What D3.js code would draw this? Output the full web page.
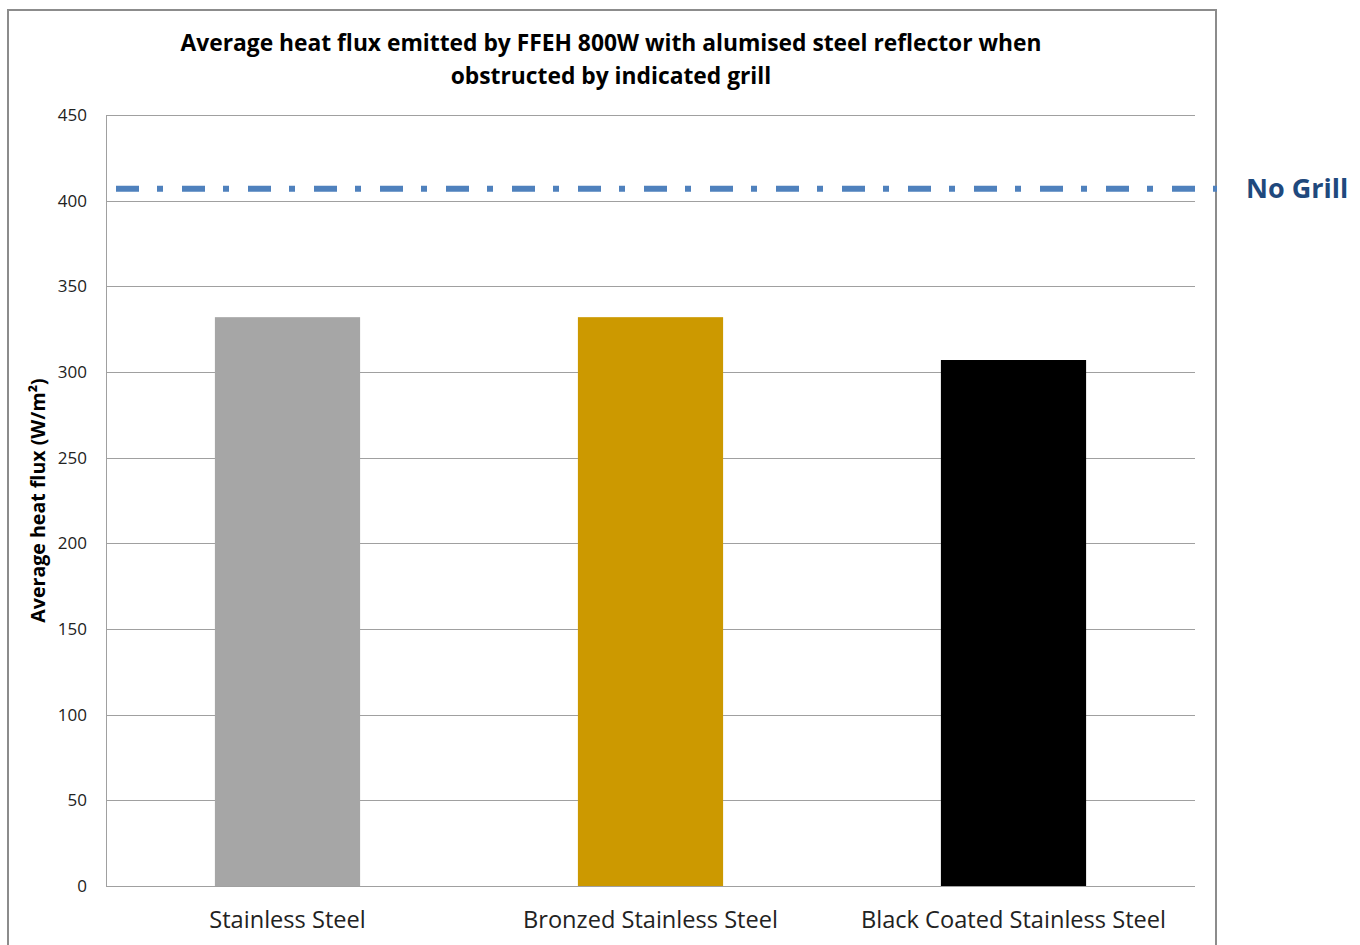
<!DOCTYPE html>
<html>
<head>
<meta charset="utf-8">
<script src="https://cdn.jsdelivr.net/npm/d3@7"></script>
<style>
  html, body { margin: 0; padding: 0; background: #fff; }
  svg { display: block; }
</style>
</head>
<body>
<svg id="chart" width="1360" height="945"></svg>
<script>
const categories = ["Stainless Steel", "Bronzed Stainless Steel", "Black Coated Stainless Steel"];
const values = [332, 332, 307];
const barColors = ["#A6A6A6", "#CC9900", "#000000"];
const noGrillValue = 407;
const noGrillLabel = "No Grill";
const yTicks = [0, 50, 100, 150, 200, 250, 300, 350, 400, 450];
const titleLines = ["Average heat flux emitted by FFEH 800W with alumised steel reflector when", "obstructed by indicated grill"];
const yTitle = "Average heat flux (W/m²)";

const svg = d3.select("#chart");
const font = "'Open Sans', 'Liberation Sans', sans-serif";

const plot = { left: 106, right: 1195, top: 115, bottom: 886 };

// outer frame
svg.append("rect")
  .attr("x", 8).attr("y", 10).attr("width", 1208).attr("height", 960)
  .attr("fill", "none").attr("stroke", "#8C8C8C").attr("stroke-width", 2);

const x = d3.scaleBand().domain(categories).range([plot.left, plot.right]).paddingInner(0.6).paddingOuter(0.3);
const y = d3.scaleLinear().domain([0, 450]).range([plot.bottom, plot.top]);

// gridlines
svg.append("g").selectAll("line").data(yTicks).join("line")
  .attr("x1", plot.left).attr("x2", plot.right)
  .attr("y1", d => Math.round(y(d)) + 0.5).attr("y2", d => Math.round(y(d)) + 0.5)
  .attr("stroke", "#A0A0A0").attr("stroke-width", 1);

// y axis line
svg.append("line")
  .attr("x1", plot.left + 0.5).attr("x2", plot.left + 0.5)
  .attr("y1", plot.top).attr("y2", plot.bottom)
  .attr("stroke", "#A0A0A0").attr("stroke-width", 1);

// y tick labels
const yAxis = d3.axisLeft(y).tickValues(yTicks).tickSize(0).tickPadding(19);
const gy = svg.append("g").attr("transform", `translate(${plot.left},0)`).call(yAxis);
gy.select(".domain").remove();
gy.selectAll("text").attr("font-family", font).attr("font-size", 17).attr("fill", "#222");

// bars
svg.append("g").selectAll("rect").data(categories).join("rect")
  .attr("x", d => x(d)).attr("width", x.bandwidth())
  .attr("y", (d, i) => y(values[i])).attr("height", (d, i) => y(0) - y(values[i]))
  .attr("fill", (d, i) => barColors[i]);

// x axis labels
const xAxis = d3.axisBottom(x).tickSize(0).tickPadding(25);
const gx = svg.append("g").attr("transform", `translate(0,${plot.bottom})`).call(xAxis);
gx.select(".domain").remove();
gx.selectAll("text").attr("font-family", font).attr("font-size", 23.6).attr("fill", "#222");

// No grill reference line
svg.append("line")
  .attr("x1", 116).attr("x2", 1217)
  .attr("y1", y(noGrillValue)).attr("y2", y(noGrillValue))
  .attr("stroke", "#4F81BD").attr("stroke-width", 6)
  .attr("stroke-dasharray", "23,18,6,19");

svg.append("text")
  .attr("x", 1246).attr("y", y(noGrillValue) + 9)
  .attr("font-family", font).attr("font-weight", "bold").attr("font-size", 27)
  .attr("fill", "#1F497D").text(noGrillLabel);

// title
svg.append("g").selectAll("text").data(titleLines).join("text")
  .attr("x", 611).attr("y", (d, i) => 51 + i * 33)
  .attr("text-anchor", "middle")
  .attr("font-family", font).attr("font-weight", "bold").attr("font-size", 22.8)
  .attr("fill", "#000").text(d => d);

// y title
svg.append("text")
  .attr("transform", `translate(45,${(plot.top + plot.bottom) / 2}) rotate(-90)`)
  .attr("text-anchor", "middle")
  .attr("font-family", font).attr("font-weight", "bold").attr("font-size", 19.6)
  .attr("fill", "#000").text(yTitle);
</script>
</body>
</html>
